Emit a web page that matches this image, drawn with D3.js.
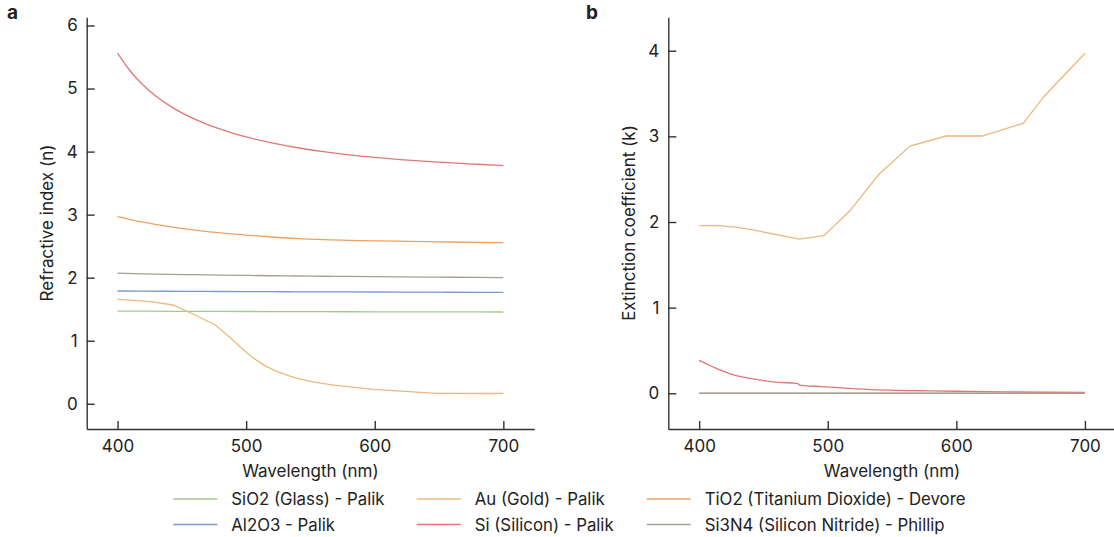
<!DOCTYPE html>
<html>
<head>
<meta charset="utf-8">
<script src="https://cdn.jsdelivr.net/npm/d3@7"></script>
<style>
  html, body { margin: 0; padding: 0; background: #fff; }
  svg text { font-family: Inter, "Noto Sans", sans-serif; fill: #222; }
</style>
</head>
<body>
<svg id="chart" width="1114" height="537"></svg>
<script>
// Optical constants of common thin-film materials, 400–700 nm
const gridWl    = [400, 420, 440, 460, 480, 500, 520, 540, 560, 580, 600, 620, 640, 660, 680, 700];
const sio2N     = [1.471, 1.469, 1.467, 1.466, 1.465, 1.464, 1.463, 1.462, 1.461, 1.460, 1.459, 1.458, 1.458, 1.457, 1.457, 1.456];
const al2o3N    = [1.789, 1.787, 1.785, 1.783, 1.781, 1.779, 1.778, 1.776, 1.775, 1.774, 1.773, 1.771, 1.770, 1.769, 1.768, 1.767];
const si3n4N    = [2.072, 2.062, 2.054, 2.047, 2.041, 2.036, 2.031, 2.027, 2.023, 2.020, 2.016, 2.013, 2.010, 2.007, 2.004, 2.001];
const tio2N     = [2.970, 2.880, 2.810, 2.755, 2.710, 2.675, 2.645, 2.620, 2.603, 2.592, 2.585, 2.579, 2.573, 2.566, 2.560, 2.556];
const zeroK     = [0, 0, 0, 0, 0, 0, 0, 0, 0, 0, 0, 0, 0, 0, 0, 0];

const siNWl     = [400, 410, 420, 430, 440, 450, 460, 470, 480, 490, 500, 520, 540, 560, 580, 600, 620, 640, 660, 680, 700];
const siN       = [5.562, 5.274, 5.052, 4.876, 4.733, 4.614, 4.514, 4.428, 4.355, 4.290, 4.233, 4.138, 4.061, 3.998, 3.948, 3.908, 3.874, 3.846, 3.821, 3.799, 3.778];

const auNWl     = [400, 413, 427, 443, 459, 476, 487, 498, 506, 514, 524, 534, 540, 553, 568, 599, 648, 689, 700];
const auN       = [1.657, 1.64, 1.615, 1.567, 1.42, 1.249, 1.06, 0.852, 0.72, 0.61, 0.51, 0.44, 0.403, 0.345, 0.297, 0.229, 0.165, 0.163, 0.165];
const auKWl     = [400, 415, 430, 445, 478, 497, 517, 540, 564, 592, 620, 652, 668, 700];
const auK       = [1.957, 1.957, 1.938, 1.898, 1.80, 1.84, 2.128, 2.56, 2.887, 3.004, 3.004, 3.152, 3.463, 3.97];

const siKWl     = [400, 405, 412, 420, 428, 440, 454, 465, 473, 476, 479, 490, 505, 520, 531, 552, 580, 610, 640, 670, 700];
const siK       = [0.385, 0.35, 0.30, 0.25, 0.21, 0.175, 0.14, 0.125, 0.12, 0.115, 0.092, 0.082, 0.068, 0.055, 0.045, 0.035, 0.028, 0.022, 0.016, 0.012, 0.010];

const xTicks    = [400, 500, 600, 700];
const nTicks    = [0, 1, 2, 3, 4, 5, 6];
const kTicks    = [0, 1, 2, 3, 4];

const materials = [
  { name: "SiO2 (Glass) - Palik",               color: "#9fcd88", nWl: gridWl, n: sio2N,  kWl: gridWl, k: zeroK },
  { name: "Al2O3 - Palik",                      color: "#7a9ad2", nWl: gridWl, n: al2o3N, kWl: gridWl, k: zeroK },
  { name: "Au (Gold) - Palik",                  color: "#ebb87f", nWl: auNWl,  n: auN,    kWl: auKWl,  k: auK },
  { name: "Si (Silicon) - Palik",               color: "#e07676", nWl: siNWl,  n: siN,    kWl: siKWl,  k: siK },
  { name: "TiO2 (Titanium Dioxide) - Devore",   color: "#eea062", nWl: gridWl, n: tio2N,  kWl: gridWl, k: zeroK },
  { name: "Si3N4 (Silicon Nitride) - Phillip",  color: "#a79f94", nWl: gridWl, n: si3n4N, kWl: gridWl, k: zeroK }
];

const svg = d3.select("#chart");

function panel(opts) {
  const g = svg.append("g");
  const x = d3.scaleLinear().domain([376, 724]).range([opts.left, opts.left + 447.5]);
  const y = d3.scaleLinear().domain(opts.yDomain).range([429, 17.3]);

  const xAxis = g.append("g").attr("transform", "translate(0,429)")
    .call(d3.axisBottom(x).tickValues(xTicks).tickFormat(d3.format("d"))
      .tickSizeInner(-8).tickSizeOuter(0).tickPadding(11));
  const yAxis = g.append("g").attr("transform", `translate(${opts.left},0)`)
    .call(d3.axisLeft(y).tickValues(opts.yTicks).tickFormat(d3.format("d"))
      .tickSizeInner(-8).tickSizeOuter(0).tickPadding(9));
  [xAxis, yAxis].forEach(a => {
    a.selectAll(".domain").attr("stroke", "#333").attr("stroke-width", 1.4);
    a.selectAll(".tick line").attr("stroke", "#333").attr("stroke-width", 1.4);
    a.selectAll(".tick text").attr("font-size", 17).attr("font-family", null).style("fill", "#222");
  });

  g.append("text")
    .attr("x", opts.left + 447.5 / 2).attr("y", 477)
    .attr("text-anchor", "middle").attr("font-size", 17)
    .text("Wavelength (nm)");
  g.append("text")
    .attr("transform", `translate(${opts.left - 33.5},223) rotate(-90)`)
    .attr("text-anchor", "middle").attr("font-size", 17)
    .text(opts.yLabel);
  g.append("text")
    .attr("x", opts.letterX).attr("y", 18.5)
    .attr("font-size", 19).attr("font-weight", 700)
    .text(opts.letter);

  materials.forEach(m => {
    const wl = m[opts.key + "Wl"], vals = m[opts.key];
    const line = d3.line()
      .x((w) => x(w))
      .y((w, i) => y(vals[i]))
      .curve(m.name.startsWith("Au") ? d3.curveLinear : d3.curveMonotoneX);
    g.append("path")
      .attr("d", line(wl))
      .attr("fill", "none")
      .attr("stroke", m.color)
      .attr("stroke-width", 1.3);
  });
}

panel({ left: 86.7, yDomain: [-0.40, 6.13], yTicks: nTicks, key: "n",
        yLabel: "Refractive index (n)", letter: "a", letterX: 7 });
panel({ left: 668.3, yDomain: [-0.417, 4.39], yTicks: kTicks, key: "k",
        yLabel: "Extinction coefficient (k)", letter: "b", letterX: 586 });

// Legend: three columns, filled column by column
const legend = svg.append("g");
const colX = [173.3, 416.7, 646.7];
const rowY = [499, 524.5];
materials.forEach((m, i) => {
  const cx = colX[Math.floor(i / 2)], cy = rowY[i % 2];
  legend.append("line")
    .attr("x1", cx).attr("x2", cx + 44)
    .attr("y1", cy).attr("y2", cy)
    .attr("stroke", m.color).attr("stroke-width", 1.3);
  legend.append("text")
    .attr("x", cx + 58).attr("y", cy)
    .attr("dy", "0.36em")
    .attr("font-size", 16.8)
    .text(m.name);
});
</script>
</body>
</html>
